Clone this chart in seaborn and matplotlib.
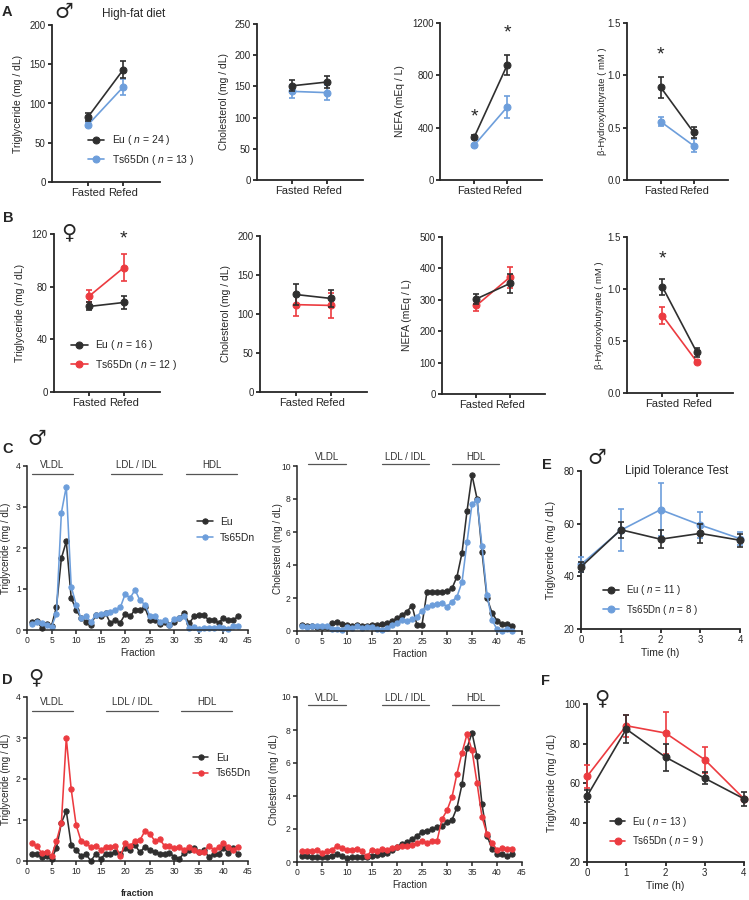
"""Lipid profile of Eu vs Ts65Dn mice: fasting/refeeding, FPLC fractions,
lipid tolerance test."""

import pandas as pd
import matplotlib
matplotlib.use("Agg")
import matplotlib.pyplot as plt
import seaborn as sns

W, H = 749, 900

sns.set_style("ticks")
plt.rcParams["font.family"] = ["Liberation Sans", "DejaVu Sans"]
plt.rcParams["mathtext.fontset"] = "custom"
plt.rcParams["mathtext.rm"] = "Liberation Sans"
plt.rcParams["mathtext.it"] = "Liberation Sans:italic"

EU = "#2f2f2f"
TS_M = "#6d9edb"
TS_F = "#ec3b40"

# ---------------- data ----------------
conds = ["Fasted", "Refed"]

# A: male, high-fat diet
a_tg_eu, a_tg_eu_se = [83, 143], [5, 11]
a_tg_ts, a_tg_ts_se = [73, 121], [3, 10]
a_ch_eu, a_ch_eu_se = [151, 157], [9, 9]
a_ch_ts, a_ch_ts_se = [142, 140], [11, 12]
a_nefa_eu, a_nefa_eu_se = [326, 879], [15, 80]
a_nefa_ts, a_nefa_ts_se = [265, 558], [12, 83]
a_bhb_eu, a_bhb_eu_se = [0.885, 0.455], [0.10, 0.05]
a_bhb_ts, a_bhb_ts_se = [0.557, 0.328], [0.045, 0.06]

# B: female
b_tg_eu, b_tg_eu_se = [65, 68], [3, 5]
b_tg_ts, b_tg_ts_se = [73, 94.5], [4.6, 10]
b_ch_eu, b_ch_eu_se = [125, 120], [13.5, 11]
b_ch_ts, b_ch_ts_se = [112, 111], [15, 16]
b_nefa_eu, b_nefa_eu_se = [303, 352], [16, 29]
b_nefa_ts, b_nefa_ts_se = [282, 372], [18, 34]
b_bhb_eu, b_bhb_eu_se = [1.02, 0.39], [0.08, 0.04]
b_bhb_ts, b_bhb_ts_se = [0.745, 0.30], [0.08, 0.01]

# C / D: FPLC fractions
fraction = list(range(1, 44))
c_tg_eu = [0.2, 0.23, 0.05, 0.14, 0.1, 0.57, 1.75, 2.16, 0.78, 0.5,
           0.29, 0.2, 0.12, 0.37, 0.34, 0.41, 0.16, 0.24, 0.18, 0.39,
           0.33, 0.5, 0.5, 0.55, 0.24, 0.24, 0.15, 0.2, 0.12, 0.2,
           0.29, 0.41, 0.16, 0.33, 0.37, 0.37, 0.24, 0.24, 0.18, 0.29,
           0.24, 0.24, 0.34]
c_tg_ts = [0.15, 0.2, 0.18, 0.12, 0.08, 0.4, 2.86, 3.5, 1.06, 0.62,
           0.29, 0.34, 0.2, 0.37, 0.39, 0.42, 0.45, 0.5, 0.55, 0.88,
           0.78, 0.98, 0.72, 0.62, 0.35, 0.35, 0.2, 0.25, 0.12, 0.27,
           0.3, 0.35, 0.06, 0.08, 0.02, 0.04, 0.05, 0.04, 0.07, 0.06,
           0.02, 0.1, 0.1]
c_ch_eu = [0.37, 0.3, 0.3, 0.26, 0.26, 0.26, 0.47, 0.53, 0.43, 0.34,
           0.3, 0.34, 0.3, 0.3, 0.34, 0.37, 0.4, 0.47, 0.6, 0.77,
           0.97, 1.18, 1.54, 0.37, 0.37, 2.39, 2.39, 2.35, 2.39, 2.45,
           2.58, 3.3, 4.73, 7.26, 9.45, 8.03, 4.8, 2.0, 1.1, 0.63,
           0.4, 0.4, 0.32]
c_ch_ts = [0.3, 0.26, 0.32, 0.3, 0.3, 0.3, 0.1, 0.1, 0.06, 0.22,
           0.16, 0.3, 0.16, 0.22, 0.22, 0.1, 0.06, 0.16, 0.37, 0.5,
           0.67, 0.6, 0.73, 0.87, 1.24, 1.45, 1.55, 1.63, 1.7, 1.48,
           1.78, 2.09, 2.96, 5.37, 7.7, 7.93, 5.13, 2.19, 0.67, 0.1,
           0.02, 0.1, 0.02]
d_tg_eu = [0.16, 0.16, 0.1, 0.12, 0.06, 0.31, 0.93, 1.22, 0.39, 0.27,
           0.12, 0.17, 0.0, 0.17, 0.06, 0.17, 0.17, 0.23, 0.16, 0.31,
           0.28, 0.39, 0.21, 0.35, 0.27, 0.23, 0.17, 0.16, 0.2, 0.1,
           0.06, 0.19, 0.28, 0.31, 0.23, 0.27, 0.1, 0.17, 0.17, 0.31,
           0.2, 0.31, 0.17]
d_tg_ts = [0.43, 0.37, 0.19, 0.23, 0.12, 0.49, 0.93, 3.0, 1.75, 0.88,
           0.49, 0.43, 0.33, 0.37, 0.28, 0.33, 0.33, 0.37, 0.12, 0.43,
           0.37, 0.49, 0.51, 0.73, 0.67, 0.49, 0.53, 0.37, 0.37, 0.31,
           0.33, 0.28, 0.33, 0.27, 0.23, 0.23, 0.37, 0.28, 0.33, 0.43,
           0.35, 0.28, 0.35]
d_ch_eu = [0.36, 0.36, 0.3, 0.3, 0.3, 0.3, 0.36, 0.46, 0.36, 0.24,
           0.3, 0.3, 0.3, 0.3, 0.36, 0.44, 0.5, 0.56, 0.75, 0.9,
           1.1, 1.2, 1.37, 1.6, 1.8, 1.9, 2.0, 2.1, 2.2, 2.4,
           2.55, 3.3, 4.7, 6.9, 7.84, 6.4, 3.5, 1.6, 0.8, 0.5,
           0.5, 0.34, 0.46]
d_ch_ts = [0.65, 0.65, 0.65, 0.7, 0.56, 0.65, 0.75, 0.97, 0.85, 0.75,
           0.75, 0.8, 0.67, 0.34, 0.75, 0.67, 0.8, 0.75, 0.85, 0.9,
           0.97, 0.97, 1.05, 1.15, 1.25, 1.17, 1.27, 1.27, 2.6, 3.13,
           3.94, 5.35, 6.63, 7.74, 6.77, 4.8, 2.73, 1.68, 1.15, 0.75,
           0.85, 0.8, 0.8]

# E / F: lipid tolerance test
time_h = [0, 1, 2, 3, 4]
e_eu, e_eu_se = [43.6, 57.7, 54.1, 56.3, 53.7], [2, 3, 3.5, 3.5, 2.5]
e_ts, e_ts_se = [44.5, 57.5, 65.3, 59.5, 54.3], [3, 8, 10, 5, 2.5]
f_eu, f_eu_se = [53.3, 87.3, 73.1, 62.4, 52.0], [3, 7, 6.8, 3, 3.5]
f_ts, f_ts_se = [63.3, 89.0, 85.3, 71.8, 52.0], [6, 5.5, 10.5, 6.5, 1]


def add_ax(x0, x1, ytop, ybot):
    ax = fig.add_axes([x0 / W, 1 - ybot / H, (x1 - x0) / W, (ybot - ytop) / H])
    ax._px = (x0, x1)
    return ax


def ftext(x, y, s, **kw):
    fig.text(x / W, 1 - y / H, s, ha="center", va="center", **kw)


def ylab(ax, text, px, size):
    ax.set_ylabel(text, fontsize=size)
    x0, x1 = ax._px
    ax.yaxis.set_label_coords((px + 5 - x0) / (x1 - x0), 0.5)


def style(ax, lw=1.3, tsize=7):
    sns.despine(ax=ax)
    for s in ["left", "bottom"]:
        ax.spines[s].set_linewidth(lw)
    ax.tick_params(width=lw, length=3, labelsize=tsize, pad=1.5)


def series(ax, x, y, se, color, label, ms=5):
    df = pd.DataFrame({"x": x, "y": y})
    sns.lineplot(data=df, x="x", y="y", color=color, marker="o", ms=ms,
                 mec=color, lw=1.2, sort=False, ax=ax, label=label,
                 clip_on=False, zorder=3)
    ax.errorbar(x, y, yerr=se, fmt="none", ecolor=color, elinewidth=1.2,
                capsize=2.5, capthick=1.2, clip_on=False, zorder=3)


def legend(ax, x, y, size=7.5, hl=1.6, rev=True):
    h, l = ax.get_legend_handles_labels()
    if rev:
        h, l = h[::-1], l[::-1]
    ax.legend(h, l, loc="upper left", bbox_to_anchor=(x, y),
              frameon=False, fontsize=size, handlelength=hl,
              handletextpad=0.7, labelspacing=0.55, borderpad=0,
              borderaxespad=0)


def group_panel(box, eu, eu_se, ts, ts_se, tcol, ylim, ystep, ylabel, lx,
                lsize=7.5, leg=None):
    ax = add_ax(*box)
    series(ax, conds, ts, ts_se, tcol, leg[1] if leg else None)
    series(ax, conds, eu, eu_se, EU, leg[0] if leg else None)
    ax.set_xlim(-1.03, 2.05)
    ax.set_ylim(*ylim)
    n = int(round((ylim[1] - ylim[0]) / ystep))
    ax.set_yticks([ylim[0] + ystep * i for i in range(n + 1)])
    ax.set_xlabel("")
    style(ax)
    ax.tick_params(axis="x", labelsize=8)
    ylab(ax, ylabel, lx, lsize)
    if ax.get_legend():
        ax.get_legend().remove()
    return ax


def frac_panel(box, eu, ts, tcol, ymax, ystep, ylabel, lx, segs, seg_y,
               txt_y, xlabel="Fraction", bold=False):
    ax = add_ax(*box)
    for vals, col, lab in [(eu, EU, "Eu"), (ts, tcol, "Ts65Dn")]:
        df = pd.DataFrame({"fraction": fraction, "v": vals})
        sns.lineplot(data=df, x="fraction", y="v", color=col, marker="o",
                     ms=3.8, mec=col, lw=1.15, ax=ax, label=lab, clip_on=False)
    ax.set_xlim(0, 45)
    ax.set_ylim(0, ymax)
    ax.set_xticks(range(0, 46, 5))
    ax.set_yticks([ystep * i for i in range(int(ymax / ystep) + 1)])
    style(ax, lw=1.1, tsize=6.2)
    ax.set_xlabel(xlabel, fontsize=7 if not bold else 6.5,
                  fontweight="bold" if bold else "normal", labelpad=2)
    ylab(ax, ylabel, lx, 7)
    for name, a, b in segs:
        ax.plot([a, b], [seg_y, seg_y], color="#555555", lw=0.9, clip_on=False)
        ax.text((a + b) / 2, txt_y, name, ha="center", va="center",
                fontsize=7, color="#333333", clip_on=False)
    return ax


def time_panel(box, eu, eu_se, ts, ts_se, tcol, ylim, labels, lx):
    ax = add_ax(*box)
    series(ax, time_h, ts, ts_se, tcol, labels[1])
    series(ax, time_h, eu, eu_se, EU, labels[0])
    ax.set_xlim(0, 4)
    ax.set_ylim(*ylim)
    ax.set_xticks(time_h)
    ax.set_yticks(range(ylim[0], ylim[1] + 1, 20))
    style(ax)
    ax.set_xlabel("Time (h)", fontsize=7.5, labelpad=2)
    ylab(ax, "Triglyceride (mg / dL)", lx, 7.5)
    return ax


fig = plt.figure(figsize=(W / 100, H / 100), dpi=100)

# ---- row A ----
leg_a = [r"Eu ( $\it{n}$ = 24 )", r"Ts65Dn ( $\it{n}$ = 13 )"]
ax = group_panel((52, 160, 25, 182), a_tg_eu, a_tg_eu_se, a_tg_ts, a_tg_ts_se,
                 TS_M, (0, 200), 50, "Triglyceride (mg / dL)", 18, leg=leg_a)
legend(ax, 0.33, 0.31)
group_panel((257, 363, 24, 180), a_ch_eu, a_ch_eu_se, a_ch_ts, a_ch_ts_se,
            TS_M, (0, 250), 50, "Cholesterol (mg / dL)", 224)
ax = group_panel((440, 542, 23, 180), a_nefa_eu, a_nefa_eu_se, a_nefa_ts,
                 a_nefa_ts_se, TS_M, (0, 1200), 400, "NEFA (mEq / L)", 400)
ax.text(0, 484, "*", ha="center", va="center", fontsize=14)
ax.text(1, 1121, "*", ha="center", va="center", fontsize=14)
ax = group_panel((627, 728, 23, 180), a_bhb_eu, a_bhb_eu_se, a_bhb_ts,
                 a_bhb_ts_se, TS_M, (0, 1.5), 0.5, "β-Hydroxybutyrate ( mM )",
                 602, lsize=6.8)
ax.text(0, 1.19, "*", ha="center", va="center", fontsize=14)

# ---- row B ----
leg_b = [r"Eu ( $\it{n}$ = 16 )", r"Ts65Dn ( $\it{n}$ = 12 )"]
ax = group_panel((54, 160, 234, 392), b_tg_eu, b_tg_eu_se, b_tg_ts, b_tg_ts_se,
                 TS_F, (0, 120), 40, "Triglyceride (mg / dL)", 20, leg=leg_b)
legend(ax, 0.16, 0.34)
ax.text(1, 116, "*", ha="center", va="center", fontsize=14)
group_panel((260, 367, 236, 392), b_ch_eu, b_ch_eu_se, b_ch_ts, b_ch_ts_se,
            TS_F, (0, 200), 50, "Cholesterol (mg / dL)", 226)
group_panel((442, 545, 237, 394), b_nefa_eu, b_nefa_eu_se, b_nefa_ts,
            b_nefa_ts_se, TS_F, (0, 500), 100, "NEFA (mEq / L)", 407)
ax = group_panel((627, 733, 237, 393), b_bhb_eu, b_bhb_eu_se, b_bhb_ts,
                 b_bhb_ts_se, TS_F, (0, 1.5), 0.5, "β-Hydroxybutyrate ( mM )",
                 599, lsize=6.8)
ax.text(0, 1.29, "*", ha="center", va="center", fontsize=14)

# ---- C / D ----
ax = frac_panel((27, 248, 466, 630), c_tg_eu, c_tg_ts, TS_M, 4, 1,
                "Triglyceride (mg / dL)", 6,
                [("VLDL", 1.0, 9.4), ("LDL / IDL", 17.1, 27.5), ("HDL", 32.4, 42.8)],
                3.8, 4.02)
legend(ax, 0.77, 0.69, size=7.5, hl=1.5, rev=False)
ax = frac_panel((297, 522, 466, 631), c_ch_eu, c_ch_ts, TS_M, 10, 2,
                "Cholesterol (mg / dL)", 278,
                [("VLDL", 2.2, 9.8), ("LDL / IDL", 17, 26.4), ("HDL", 31, 40.4)],
                10.12, 10.55)
ax.get_legend().remove()
ax = frac_panel((27, 248, 697, 861), d_tg_eu, d_tg_ts, TS_F, 4, 1,
                "Triglyceride (mg / dL)", 6,
                [("VLDL", 1.0, 9.4), ("LDL / IDL", 16.1, 26.7), ("HDL", 31.4, 41.8)],
                3.66, 3.88, xlabel="fraction", bold=True)
legend(ax, 0.75, 0.66, size=7.5, hl=1.5, rev=False)
ax.xaxis.set_label_coords(0.5, -0.17)
ax = frac_panel((297, 522, 697, 862), d_ch_eu, d_ch_ts, TS_F, 10, 2,
                "Cholesterol (mg / dL)", 274,
                [("VLDL", 2.2, 9.8), ("LDL / IDL", 17, 26.4), ("HDL", 31, 40.4)],
                9.52, 9.94)
ax.get_legend().remove()

# ---- E / F ----
ax = time_panel((581, 740, 471, 629), e_eu, e_eu_se, e_ts, e_ts_se, TS_M,
                (20, 80), [r"Eu ( $\it{n}$ = 11 )", r"Ts65Dn ( $\it{n}$ = 8 )"], 551)
legend(ax, 0.14, 0.29, size=7, hl=1.6)
ftext(677, 471, "Lipid Tolerance Test", fontsize=8.5)
ax = time_panel((587, 744, 704, 862), f_eu, f_eu_se, f_ts, f_ts_se, TS_F,
                (20, 100), [r"Eu ( $\it{n}$ = 13 )", r"Ts65Dn ( $\it{n}$ = 9 )"], 552)
legend(ax, 0.146, 0.30, size=7, hl=1.6)

# ---- panel letters, sex symbols ----
for ch, x, y in [("A", 7, 12), ("B", 8, 218), ("C", 8, 449), ("D", 7, 680),
                 ("E", 547, 465), ("F", 546, 681)]:
    ftext(x, y, ch, fontsize=10.5, fontweight="bold")
for ch, x, y in [("♂", 64, 12), ("♀", 69, 232), ("♂", 37, 439),
                 ("♀", 36, 677), ("♂", 597, 458), ("♀", 602, 698)]:
    ftext(x, y, ch, fontsize=15, family=["DejaVu Sans"])
ftext(134, 14, "High-fat diet", fontsize=8.5)

fig.savefig("out.png", dpi=100)
